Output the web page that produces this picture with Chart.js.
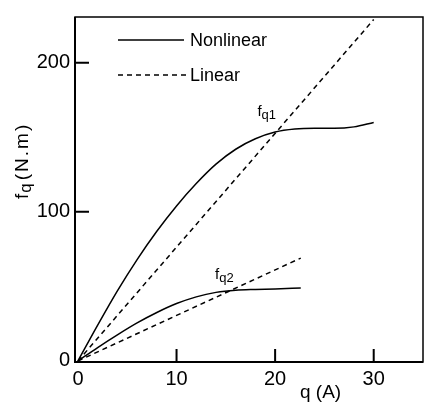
<!DOCTYPE html>
<html>
<head>
<meta charset="utf-8">
<script src="https://cdn.jsdelivr.net/npm/chart.js@4.4.1/dist/chart.umd.min.js"></script>
<style>
  html, body { margin: 0; padding: 0; background: #fff; }
</style>
</head>
<body>
<canvas id="torqueChart" width="427" height="403"></canvas>
<script>
// values: q in A, f in N.m
const qNonlin1 = [0, 2, 4, 6, 8, 10, 12, 14, 16, 18, 20, 22, 24, 26, 28, 30];
const fNonlin1 = [0, 24, 47, 68, 87, 104, 119, 132, 142, 149, 153.5, 155.5, 156, 156, 157, 160];
const qLin1 = [0, 30];
const fLin1 = [0, 229];
const qNonlin2 = [0, 2, 4, 6, 8, 10, 12, 14, 16, 18, 20, 22.6];
const fNonlin2 = [0, 9, 17.5, 25.5, 32.5, 38.5, 43, 46, 47.5, 48, 48.3, 49];
const qLin2 = [0, 22.6];
const fLin2 = [0, 69];

const xTicks = [0, 10, 20, 30];
const yTicks = [0, 100, 200];
const legendLabels = ['Nonlinear', 'Linear'];
const curveLabels = [['f', 'q1'], ['f', 'q2']];

const FONT = '"Liberation Sans", Arial, sans-serif';

function pts(xs, ys) {
    return xs.map((x, i) => ({ x: x, y: ys[i] }));
}

// frame, inner tick marks, legend and the curve labels
const decorations = {
    id: 'decorations',
    afterDraw(chart) {
        const ctx = chart.ctx;
        const a = chart.chartArea;
        const xs = chart.scales.x, ys = chart.scales.y;
        ctx.save();
        ctx.strokeStyle = '#000';
        ctx.fillStyle = '#000';

        // box
        ctx.lineWidth = 1.5;
        ctx.strokeRect(a.left, a.top, a.right - a.left, a.bottom - a.top);
        ctx.lineWidth = 2;
        ctx.beginPath();
        ctx.moveTo(a.left, a.top); ctx.lineTo(a.left, a.bottom); ctx.lineTo(a.right, a.bottom);
        ctx.stroke();

        // ticks pointing into the plot
        ctx.beginPath();
        yTicks.slice(1).forEach(v => {
            const y = ys.getPixelForValue(v);
            ctx.moveTo(a.left, y); ctx.lineTo(a.left + 14, y);
        });
        xTicks.slice(1).forEach(v => {
            const x = xs.getPixelForValue(v);
            ctx.moveTo(x, a.bottom); ctx.lineTo(x, a.bottom - 13);
        });
        ctx.stroke();

        // legend
        ctx.lineWidth = 1.5;
        ctx.beginPath();
        ctx.moveTo(118, 40); ctx.lineTo(184, 40);
        ctx.stroke();
        ctx.setLineDash([5, 4]);
        ctx.beginPath();
        ctx.moveTo(118, 75); ctx.lineTo(187, 75);
        ctx.stroke();
        ctx.setLineDash([]);
        ctx.font = '18px ' + FONT;
        ctx.textBaseline = 'alphabetic';
        ctx.textAlign = 'left';
        ctx.fillText(legendLabels[0], 190, 46);
        ctx.fillText(legendLabels[1], 190, 81);

        // curve labels f_q1, f_q2
        const spots = [[18.2, 164], [13.9, 55]];
        curveLabels.forEach((lab, i) => {
            const x = xs.getPixelForValue(spots[i][0]);
            const y = ys.getPixelForValue(spots[i][1]);
            ctx.font = '15px ' + FONT;
            ctx.fillText(lab[0], x, y);
            const w = ctx.measureText(lab[0]).width;
            ctx.font = '13px ' + FONT;
            ctx.fillText(lab[1], x + w, y + 3);
        });

        // axis titles
        ctx.font = '19px ' + FONT;
        ctx.fillText('q (A)', 300, 398);

        ctx.translate(28, 199);
        ctx.rotate(-Math.PI / 2);
        ctx.font = '19px ' + FONT;
        ctx.fillText('f', 0, 0);
        let off = ctx.measureText('f').width + 1;
        ctx.font = '17px ' + FONT;
        ctx.fillText('q', off, 3);
        off += ctx.measureText('q').width + 3;
        ctx.font = '19px ' + FONT;
        ctx.letterSpacing = '2px';
        ctx.fillText('(N.m)', off, 0);
        ctx.restore();
    }
};

new Chart(document.getElementById('torqueChart'), {
    type: 'line',
    data: {
        datasets: [
            { data: pts(qNonlin1, fNonlin1), borderColor: '#000', borderWidth: 1.5, cubicInterpolationMode: 'monotone' },
            { data: pts(qLin1, fLin1), borderColor: '#000', borderWidth: 1.5, borderDash: [5, 4] },
            { data: pts(qNonlin2, fNonlin2), borderColor: '#000', borderWidth: 1.5, cubicInterpolationMode: 'monotone' },
            { data: pts(qLin2, fLin2), borderColor: '#000', borderWidth: 1.5, borderDash: [5, 4] }
        ]
    },
    options: {
        responsive: false,
        animation: false,
        devicePixelRatio: 1,
        layout: { padding: { top: 15, right: 4, left: 0, bottom: 0 } },
        elements: { point: { radius: 0 } },
        scales: {
            x: {
                type: 'linear',
                min: -0.3,
                max: 35,
                afterBuildTicks: s => { s.ticks = xTicks.map(v => ({ value: v })); },
                afterFit: s => { s.height = 41; },
                grid: { display: false, drawTicks: false },
                border: { display: false },
                ticks: { color: '#000', padding: 5, font: { family: FONT, size: 20 } }
            },
            y: {
                min: -0.7,
                max: 230.7,
                afterBuildTicks: s => { s.ticks = yTicks.map(v => ({ value: v })); },
                afterFit: s => { s.width = 75; },
                grid: { display: false, drawTicks: false },
                border: { display: false },
                ticks: { color: '#000', padding: 5, font: { family: FONT, size: 20 } }
            }
        },
        plugins: {
            legend: { display: false },
            tooltip: { enabled: false }
        }
    },
    plugins: [decorations]
});
</script>
</body>
</html>
